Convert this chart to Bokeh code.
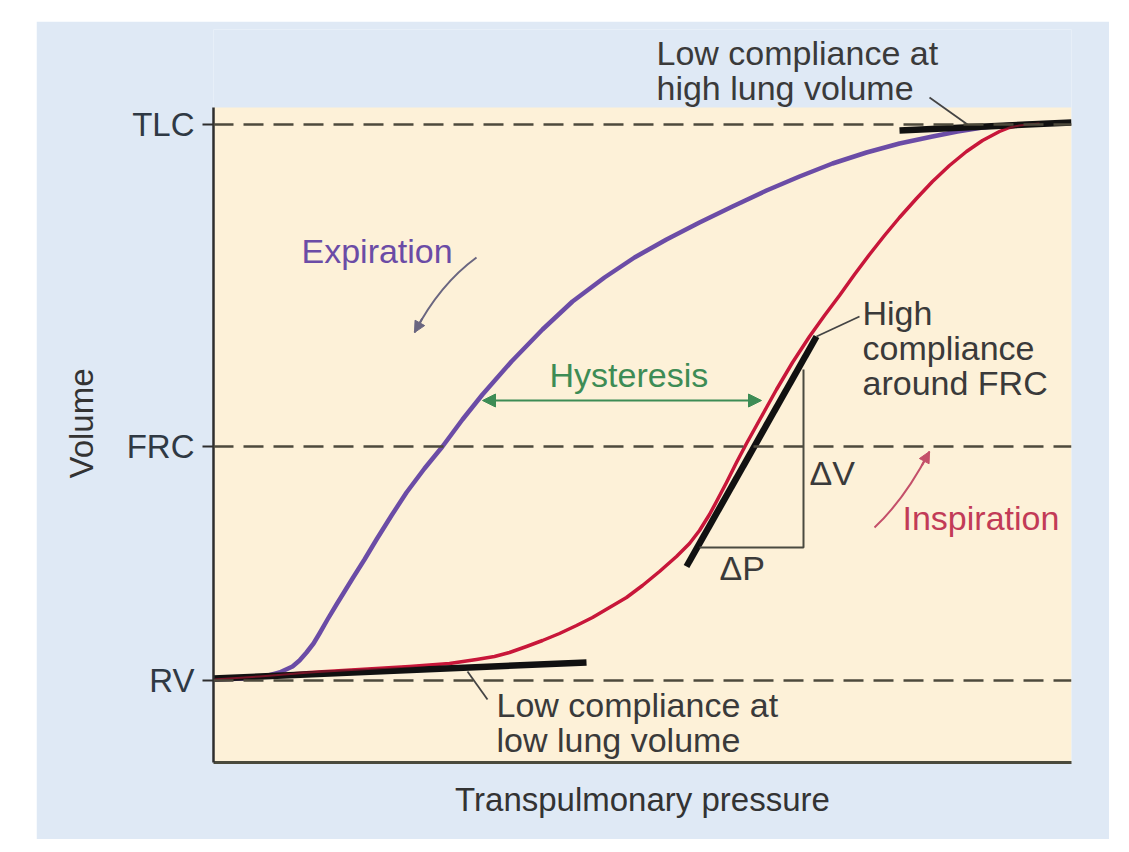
from bokeh.plotting import figure
from bokeh.models import FixedTicker, Span, Arrow, NormalHead
from bokeh.core.properties import value
from bokeh.embed import file_html
from bokeh.resources import INLINE

# ---- data (arbitrary units) ----
volume_levels = [8.2, 31.6, 63.8]
volume_labels = ["RV", "FRC", "TLC"]

exp_pressure = [0.0, 3.1, 5.1, 6.6, 7.9, 8.6, 9.3, 10.0, 10.6, 11.4, 12.3, 13.1, 13.9,
                15.1, 16.3, 17.8, 19.3, 21.1, 22.9, 24.9, 26.9, 29.8, 32.9, 35.9,
                39.1, 42.1, 45.3, 48.6, 51.9, 55.3, 58.6, 61.9, 65.3, 68.6, 71.9,
                74.4, 76.9, 78.6, 80.3, 82.6]
exp_volume = [8.3, 8.4, 8.6, 9.0, 9.6, 10.2, 11.0, 11.9, 12.9, 14.3, 15.8, 17.1, 18.4,
              20.3, 22.3, 24.7, 27.0, 29.4, 31.6, 34.3, 36.8, 40.1, 43.3, 46.1,
              48.5, 50.5, 52.3, 54.0, 55.6, 57.2, 58.6, 59.9, 61.0, 61.9, 62.6,
              63.1, 63.5, 63.7, 63.8, 63.9]

insp_pressure = [0.0, 4.6, 9.6, 14.6, 19.6, 23.6, 26.3, 28.1, 29.6, 31.3, 32.9, 34.6,
                 36.3, 37.9, 39.6, 41.3, 42.9, 44.6, 46.3, 47.6, 48.6, 49.6, 50.3,
                 51.3, 52.3, 53.3, 54.3, 55.3, 56.3, 57.9, 59.6, 61.1, 62.6, 64.1,
                 65.6, 67.1, 68.6, 70.3, 71.9, 73.6, 75.3, 76.9, 78.6, 79.6, 80.6, 82.6]
insp_volume = [8.3, 8.6, 9.0, 9.3, 9.6, 9.9, 10.3, 10.6, 11.0, 11.6, 12.2, 12.9,
               13.7, 14.5, 15.5, 16.5, 17.7, 19.1, 20.6, 21.9, 23.2, 24.8, 26.1,
               28.0, 30.0, 31.9, 33.7, 35.5, 37.3, 40.0, 42.6, 44.7, 46.7, 48.8,
               50.8, 52.7, 54.5, 56.4, 58.1, 59.7, 61.1, 62.2, 63.1, 63.5, 63.7, 63.9]

# tangent (compliance) segments
tangent_x0 = [0.0, 47.3, 68.6]
tangent_y0 = [8.4, 19.6, 63.2]
tangent_x1 = [37.3, 60.3, 85.8]
tangent_y1 = [10.0, 42.6, 64.0]

# delta-P / delta-V triangle
tri_x = [48.6, 59.0, 59.0]
tri_y = [21.5, 21.5, 39.3]

# hysteresis span
hyst_x = [26.9, 54.8]
hyst_y = 36.2

# plot extents
pressure_max = 85.8
volume_max = 65.5
view_top = 73.3

# ---- styling ----
FONT = value("Liberation Sans")
DARK = "#3a3a3a"
BEIGE = "#fdf1d8"
BLUE = "#dfe9f5"
PURPLE = "#6b4ca6"
RED = "#c8173a"
GREEN = "#3d8c55"

p = figure(width=1073, height=818, x_range=(0, pressure_max), y_range=(0, view_top),
           output_backend="svg", toolbar_location=None,
           min_border_left=177, min_border_right=38, min_border_top=8,
           min_border_bottom=77, background_fill_color=BLUE,
           border_fill_color=BLUE, outline_line_color=None)
p.margin = (21, 0, 0, 36)
p.grid.visible = False

# beige plotting panel
p.quad(left=[0], right=[pressure_max], bottom=[0], top=[volume_max],
       fill_color=BEIGE, line_color=None, level="underlay")

# axes
p.yaxis.ticker = FixedTicker(ticks=volume_levels)
p.yaxis.major_label_overrides = {v: l for v, l in zip(volume_levels, volume_labels)}
p.yaxis.bounds = (0, volume_max)
p.yaxis.axis_label = "Volume" + "\u00a0" * 6
p.yaxis.major_tick_out = 11
p.yaxis.major_tick_in = 0
p.yaxis.minor_tick_line_color = None
p.yaxis.major_label_standoff = 8
p.yaxis.axis_label_standoff = 24
p.xaxis.ticker = FixedTicker(ticks=[])
p.xaxis.minor_tick_line_color = None
p.xaxis.major_tick_out = 0
p.xaxis.major_label_standoff = 0
p.xaxis.axis_label = "Transpulmonary pressure"
p.xaxis.axis_label_standoff = 18
for ax in (p.xaxis, p.yaxis):
    ax.axis_line_color = "#2e2e2e"
    ax.axis_line_width = 2.5
    ax.major_tick_line_color = "#2e2e2e"
    ax.major_tick_line_width = 2
    ax.axis_label_text_font = "Liberation Sans"
    ax.axis_label_text_font_size = "33px"
    ax.axis_label_text_font_style = "normal"
    ax.axis_label_text_color = "#333333"
    ax.major_label_text_font = "Liberation Sans"
    ax.major_label_text_font_size = "33px"
    ax.major_label_text_color = "#2f3944"
p.xaxis.axis_line_color = "#4a4a3c"
p.xaxis.axis_line_width = 3

# dashed reference levels
for v in volume_levels:
    p.add_layout(Span(location=v, dimension="width", line_color="#4d4a3c",
                      line_width=2.5, line_dash="20 10"))

# curves
p.line(exp_pressure, exp_volume, line_color=PURPLE, line_width=4.5, line_join="round")
p.line(insp_pressure, insp_volume, line_color=RED, line_width=3.5, line_join="round")

# tangents
p.segment(tangent_x0, tangent_y0, tangent_x1, tangent_y1, line_color="#111111",
          line_width=6.5, line_cap="butt")
p.line(insp_pressure, insp_volume, line_color=RED, line_width=2, line_alpha=0.55,
       line_join="round")

# triangle
p.line(tri_x, tri_y, line_color="#4a4a40", line_width=2)

# leader lines
lead_x0 = [64.6, 25.4, 71.6]
lead_y0 = [44.6, 9.1, 66.5]
lead_x1 = [60.3, 27.4, 75.4]
lead_y1 = [42.6, 6.3, 63.8]
p.segment(lead_x0, lead_y0, lead_x1, lead_y1, line_color="#444444", line_width=1.8)

# hysteresis arrow
p.add_layout(Arrow(start=NormalHead(size=13, fill_color=GREEN, line_color=GREEN),
                   end=NormalHead(size=13, fill_color=GREEN, line_color=GREEN),
                   x_start=hyst_x[0], y_start=hyst_y, x_end=hyst_x[1], y_end=hyst_y,
                   line_color=GREEN, line_width=2))

# curved arrows
def bez(p0, c, p1, t):
    return ((1 - t) ** 2 * p0[0] + 2 * (1 - t) * t * c[0] + t ** 2 * p1[0],
            (1 - t) ** 2 * p0[1] + 2 * (1 - t) * t * c[1] + t ** 2 * p1[1])

for (p0, c, p1, col) in [((26.3, 50.5), (22.6, 47.8), (20.1, 43.0), "#6a6680"),
                         ((66.1, 23.5), (69.1, 26.3), (71.6, 31.1), "#c4506a")]:
    p.quadratic(x0=[p0[0]], y0=[p0[1]], x1=[p1[0]], y1=[p1[1]], cx=[c[0]], cy=[c[1]],
                line_color=col, line_width=2)
    s = bez(p0, c, p1, 0.85)
    p.add_layout(Arrow(end=NormalHead(size=11, fill_color=col, line_color=col),
                       x_start=s[0], y_start=s[1], x_end=p1[0], y_end=p1[1],
                       line_color=col, line_width=2))

# texts
def txt(x, y, t, color=DARK):
    p.text(x=[x], y=[y], text=[t], text_font=FONT, text_font_size="34px",
           text_color=color, text_baseline="alphabetic", text_align="left")

txt(8.8, 51.2, "Expiration", PURPLE)
txt(33.6, 38.8, "Hysteresis", GREEN)
txt(68.9, 24.5, "Inspiration", "#c23b57")
txt(59.6, 29.0, "ΔV")
txt(50.6, 19.5, "ΔP")
txt(64.9, 45.0, "High")
txt(64.9, 41.5, "compliance")
txt(64.9, 38.0, "around FRC")
txt(28.3, 5.8, "Low compliance at")
txt(28.3, 2.3, "low lung volume")
txt(44.3, 71.0, "Low compliance at")
txt(44.3, 67.5, "high lung volume")

open("out.html", "w").write(file_html(p, INLINE))
